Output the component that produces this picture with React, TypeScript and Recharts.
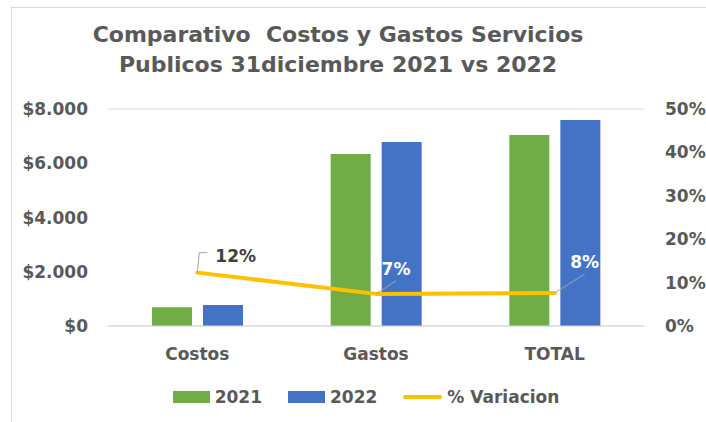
import React from "react";
import {
  ComposedChart,
  Bar,
  Line,
  XAxis,
  YAxis,
  CartesianGrid,
  Legend,
  LabelList,
} from "recharts";

// values
const categories = ["Costos", "Gastos", "TOTAL"];
const valores2021 = [690, 6340, 7040];
const valores2022 = [775, 6785, 7595];
const variacion = [0.123, 0.074, 0.076];
const ticksPesos = [0, 2000, 4000, 6000, 8000];
const ticksPct = [0, 0.1, 0.2, 0.3, 0.4, 0.5];

const data = categories.map((name, i) => ({
  name,
  v2021: valores2021[i],
  v2022: valores2022[i],
  pct: variacion[i],
}));

const FONT = "'DejaVu Sans', sans-serif";
const GRAY = "#595959";

const fmtPesos = (v: number) =>
  "$" + v.toLocaleString("de-DE", { maximumFractionDigits: 0 });
const fmtPct = (v: number) => `${Math.round(v * 100)}%`;

// leader line + text for each % point, placed like the Excel labels
const PctLabel = (props: any) => {
  const { x, y, value, index } = props;
  const txt = fmtPct(value);
  if (index === 0) {
    return (
      <g>
        <polyline
          points={`${x},${y} ${x + 2},${y - 20} ${x + 10},${y - 20}`}
          fill="none"
          stroke="#a6a6a6"
          strokeWidth={1}
        />
        <text x={x + 18} y={y - 11} fill="#404040" fontSize={17} fontWeight={700} fontFamily={FONT}>
          {txt}
        </text>
      </g>
    );
  }
  const dx = index === 1 ? 20 : 30;
  const dy = index === 1 ? 13 : 19;
  const ty = index === 1 ? 25 : 31;
  return (
    <g>
      <line x1={x} y1={y} x2={x + dx} y2={y - dy} stroke="#a6a6a6" strokeWidth={1} />
      <text
        x={x + dx}
        y={y - ty + 6}
        fill="#ffffff"
        fontSize={17}
        fontWeight={700}
        fontFamily={FONT}
        textAnchor="middle"
      >
        {txt}
      </text>
    </g>
  );
};

const LegendContent = () => (
  <div
    style={{
      display: "flex",
      justifyContent: "center",
      alignItems: "center",
      gap: 26,
      fontFamily: FONT,
      fontWeight: 700,
      fontSize: 17,
      color: GRAY,
      paddingLeft: 26,
      paddingTop: 21,
    }}
  >
    <span style={{ display: "flex", alignItems: "center", gap: 5 }}>
      <span style={{ width: 37, height: 12, background: "#70AD47" }} />
      2021
    </span>
    <span style={{ display: "flex", alignItems: "center", gap: 5 }}>
      <span style={{ width: 37, height: 12, background: "#4472C4" }} />
      2022
    </span>
    <span style={{ display: "flex", alignItems: "center", gap: 5 }}>
      <span style={{ width: 39, height: 4, borderRadius: 2, background: "#FFC000" }} />
      % Variacion
    </span>
  </div>
);

export default function App() {
  return (
    <div style={{ position: "absolute", left: 0, top: 0, width: 706, height: 422, background: "#fff" }}>
      <div
        style={{
          position: "absolute",
          left: 11,
          top: 7,
          right: 0,
          bottom: 0,
          borderLeft: "1px solid #d9d9d9",
          borderTop: "1px solid #d9d9d9",
        }}
      />
      <div
        style={{
          position: "absolute",
          left: 0,
          top: 20,
          width: 676,
          textAlign: "center",
          fontFamily: FONT,
          fontWeight: 700,
          fontSize: 22,
          lineHeight: "30px",
          color: GRAY,
          whiteSpace: "pre",
        }}
      >
        {"Comparativo  Costos y Gastos Servicios\nPublicos 31diciembre 2021 vs 2022"}
      </div>
      <div style={{ position: "absolute", left: 0, top: 0 }}>
        <ComposedChart
          width={706}
          height={422}
          data={data}
          margin={{ top: 109, right: 0, bottom: 10, left: 0 }}
          barGap={11}
          barSize={40}
        >
          <CartesianGrid vertical={false} stroke="#d9d9d9" />
          <XAxis
            dataKey="name"
            axisLine={{ stroke: "#d9d9d9" }}
            tickLine={false}
            tickSize={0}
            tickMargin={22}
            height={40}
            tick={{ fill: GRAY, fontSize: 17, fontWeight: 700, fontFamily: FONT }}
          />
          <YAxis
            yAxisId="left"
            width={108}
            domain={[0, 8000]}
            ticks={ticksPesos}
            tickFormatter={fmtPesos}
            axisLine={false}
            tickLine={false}
            tickSize={0}
            tickMargin={20}
            tick={{ fill: GRAY, fontSize: 17, fontWeight: 700, fontFamily: FONT }}
          />
          <YAxis
            yAxisId="right"
            orientation="right"
            width={62}
            domain={[0, 0.5]}
            ticks={ticksPct}
            tickFormatter={fmtPct}
            axisLine={false}
            tickLine={false}
            tickSize={0}
            tickMargin={21}
            tick={{ fill: GRAY, fontSize: 17, fontWeight: 700, fontFamily: FONT, textAnchor: "start" }}
          />
          <Legend verticalAlign="bottom" height={46} content={<LegendContent />} />
          <Bar yAxisId="left" dataKey="v2021" name="2021" fill="#70AD47" isAnimationActive={false} />
          <Bar yAxisId="left" dataKey="v2022" name="2022" fill="#4472C4" isAnimationActive={false} />
          <Line
            yAxisId="right"
            dataKey="pct"
            name="% Variacion"
            stroke="#FFC000"
            strokeWidth={4}
            dot={false}
            strokeLinecap="round"
            strokeLinejoin="round"
            isAnimationActive={false}
          >
            <LabelList dataKey="pct" content={<PctLabel />} />
          </Line>
        </ComposedChart>
      </div>
    </div>
  );
}
